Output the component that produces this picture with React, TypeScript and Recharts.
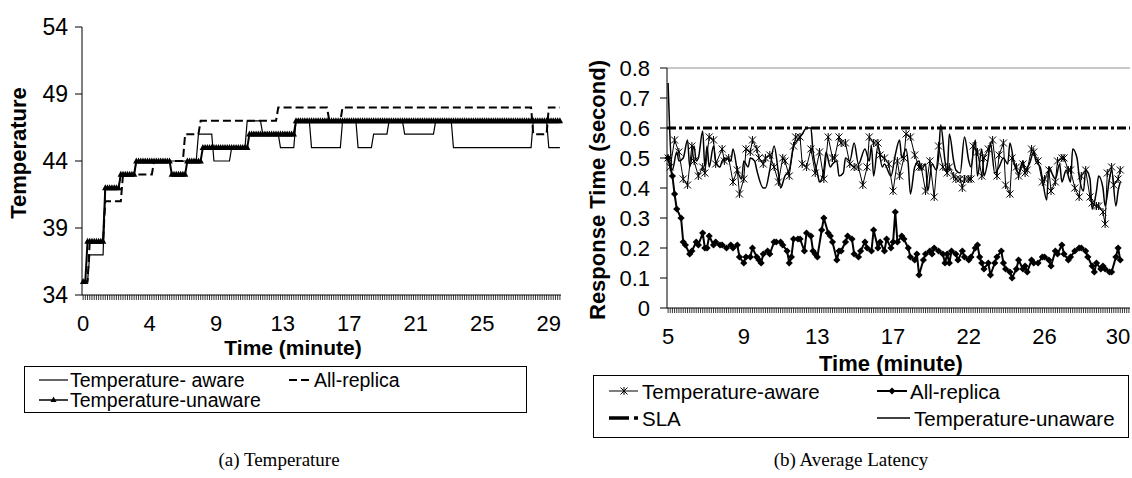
import React from 'react';
import { LineChart, Line, XAxis, YAxis, ReferenceLine } from 'recharts';

const FONT = '"Liberation Sans", Arial, Helvetica, sans-serif';
const SERIF = '"Liberation Serif", "Times New Roman", serif';

// ---- (a) Temperature: step series as [temperature, number of samples] ----
const tempAwareRuns = [
  [35, 3], [37, 7], [42, 7], [43, 7], [44, 28], [46, 7], [44, 8], [45, 7], [47, 7], [46, 8],
  [45, 7], [47, 7], [45, 14], [47, 7], [45, 7], [46, 7], [47, 7], [46, 14], [47, 8], [45, 36],
  [47, 7], [45, 6],
];
const allReplicaRuns = [
  [35, 3], [38, 7], [41, 8], [43, 14], [44, 14], [46, 7], [47, 35], [48, 23], [47, 6], [48, 86],
  [46, 7], [48, 6],
];
const tempUnawareRuns = [
  [35, 2], [38, 8], [42, 7], [43, 7], [44, 16], [43, 7], [44, 7], [45, 21], [46, 21], [47, 120],
];
const tempYTicks = [34, 39, 44, 49, 54];
const tempLabelIdx = [0, 30, 60, 90, 120, 150, 180, 210];
const tempLabelText = ['0', '4', '9', '13', '17', '21', '25', '29'];
const TEMP_SAMPLES = 216;

// ---- (b) Average Latency: [sample, seconds] ----
const latAwarePts = [
  [0, 0.5], [1, 0.47], [3, 0.56], [5, 0.52], [7, 0.43], [9, 0.41], [11, 0.54], [12, 0.49], [14, 0.44], [16, 0.47],
  [17, 0.45], [19, 0.57], [21, 0.56], [22, 0.48], [25, 0.53], [26, 0.49], [28, 0.5], [30, 0.42], [32, 0.46], [33, 0.38],
  [35, 0.43], [36, 0.53], [38, 0.52], [39, 0.56], [41, 0.53], [42, 0.5], [44, 0.48], [45, 0.5], [47, 0.51], [49, 0.47],
  [51, 0.42], [53, 0.5], [54, 0.49], [56, 0.44], [58, 0.54], [59, 0.57], [61, 0.57], [62, 0.48], [64, 0.47], [66, 0.53],
  [68, 0.45], [70, 0.52], [72, 0.43], [74, 0.57], [76, 0.5], [77, 0.5], [79, 0.57], [80, 0.55], [82, 0.55], [84, 0.48],
  [86, 0.47], [88, 0.47], [90, 0.41], [92, 0.47], [93, 0.57], [95, 0.55], [97, 0.55], [98, 0.51], [100, 0.5], [102, 0.48],
  [104, 0.39], [106, 0.49], [107, 0.44], [109, 0.5], [110, 0.58], [112, 0.57], [114, 0.51], [116, 0.47], [117, 0.47], [119, 0.39],
  [121, 0.49], [123, 0.37], [125, 0.54], [127, 0.47], [129, 0.45], [130, 0.47], [132, 0.44], [133, 0.43], [135, 0.43], [136, 0.4],
  [137, 0.43], [139, 0.43], [140, 0.43], [141, 0.54], [143, 0.52], [145, 0.44], [146, 0.5], [148, 0.53], [150, 0.56], [152, 0.44],
  [153, 0.51], [155, 0.55], [156, 0.41], [158, 0.38], [159, 0.5], [161, 0.47], [162, 0.44], [164, 0.48], [165, 0.45], [166, 0.46],
  [168, 0.53], [169, 0.52], [171, 0.49], [173, 0.42], [174, 0.43], [176, 0.46], [177, 0.39], [179, 0.42], [180, 0.49], [182, 0.5],
  [183, 0.5], [185, 0.46], [186, 0.46], [188, 0.4], [190, 0.37], [191, 0.44], [193, 0.46], [195, 0.37], [196, 0.35], [198, 0.34],
  [199, 0.34], [201, 0.32], [202, 0.28], [203, 0.45], [205, 0.47], [206, 0.41], [208, 0.43], [209, 0.46],
];
const latReplicaPts = [
  [0, 0.5], [2, 0.44], [3, 0.38], [4, 0.33], [6, 0.3], [7, 0.22], [8, 0.21], [10, 0.18], [11, 0.19], [13, 0.22],
  [14, 0.21], [16, 0.25], [17, 0.2], [18, 0.2], [19, 0.24], [21, 0.21], [22, 0.22], [24, 0.21], [25, 0.21], [27, 0.2],
  [29, 0.21], [30, 0.2], [32, 0.21], [33, 0.17], [35, 0.15], [36, 0.17], [38, 0.17], [39, 0.2], [41, 0.17], [42, 0.16],
  [43, 0.15], [44, 0.18], [46, 0.19], [47, 0.18], [49, 0.22], [50, 0.22], [52, 0.22], [53, 0.21], [55, 0.19], [56, 0.15],
  [57, 0.17], [58, 0.23], [60, 0.23], [61, 0.23], [63, 0.19], [64, 0.25], [66, 0.24], [67, 0.19], [68, 0.18], [69, 0.17],
  [71, 0.26], [72, 0.3], [74, 0.25], [75, 0.24], [76, 0.22], [78, 0.16], [79, 0.19], [80, 0.19], [82, 0.22], [83, 0.24],
  [85, 0.23], [86, 0.18], [88, 0.17], [89, 0.19], [91, 0.22], [92, 0.2], [94, 0.19], [95, 0.26], [97, 0.2], [98, 0.22],
  [100, 0.19], [101, 0.23], [103, 0.2], [104, 0.22], [105, 0.32], [106, 0.22], [108, 0.24], [109, 0.23], [111, 0.2], [112, 0.17],
  [114, 0.16], [115, 0.18], [116, 0.11], [118, 0.16], [119, 0.18], [121, 0.19], [122, 0.18], [123, 0.2], [125, 0.19], [127, 0.18],
  [128, 0.15], [129, 0.18], [130, 0.15], [131, 0.19], [133, 0.18], [134, 0.16], [136, 0.19], [137, 0.17], [139, 0.16], [140, 0.17],
  [142, 0.2], [143, 0.21], [144, 0.17], [145, 0.15], [146, 0.13], [148, 0.15], [149, 0.11], [151, 0.15], [152, 0.17], [154, 0.19],
  [155, 0.15], [156, 0.13], [158, 0.12], [159, 0.1], [161, 0.13], [162, 0.16], [164, 0.13], [165, 0.14], [166, 0.12], [168, 0.16],
  [169, 0.15], [171, 0.15], [173, 0.17], [174, 0.17], [176, 0.16], [177, 0.14], [179, 0.19], [180, 0.18], [182, 0.21], [183, 0.18],
  [185, 0.16], [186, 0.17], [188, 0.19], [190, 0.2], [191, 0.2], [193, 0.19], [194, 0.17], [196, 0.14], [197, 0.12], [198, 0.15],
  [200, 0.13], [201, 0.14], [202, 0.13], [204, 0.12], [205, 0.12], [207, 0.17], [208, 0.2], [209, 0.16],
];
const latUnawarePts = [
  [0, 0.75], [2, 0.46], [4, 0.52], [5, 0.49], [7, 0.5], [9, 0.56], [10, 0.47], [12, 0.54], [13, 0.49], [14, 0.5],
  [16, 0.59], [17, 0.47], [18, 0.54], [19, 0.47], [21, 0.54], [22, 0.49], [24, 0.47], [25, 0.49], [27, 0.5], [29, 0.49],
  [30, 0.53], [32, 0.46], [34, 0.43], [35, 0.49], [37, 0.47], [38, 0.5], [40, 0.49], [41, 0.46], [44, 0.4], [45, 0.4],
  [47, 0.46], [49, 0.54], [51, 0.45], [52, 0.4], [54, 0.44], [56, 0.46], [58, 0.54], [60, 0.56], [62, 0.58], [64, 0.6],
  [66, 0.6], [67, 0.52], [69, 0.45], [70, 0.42], [72, 0.46], [73, 0.52], [75, 0.47], [76, 0.48], [78, 0.49], [79, 0.44],
  [81, 0.45], [82, 0.5], [84, 0.49], [86, 0.55], [88, 0.48], [91, 0.53], [93, 0.49], [94, 0.54], [95, 0.44], [97, 0.54],
  [99, 0.47], [100, 0.48], [103, 0.44], [105, 0.51], [107, 0.56], [108, 0.5], [110, 0.53], [111, 0.48], [112, 0.38], [114, 0.47],
  [116, 0.49], [117, 0.46], [119, 0.48], [120, 0.39], [122, 0.48], [124, 0.46], [125, 0.5], [126, 0.61], [128, 0.49], [129, 0.45],
  [130, 0.58], [132, 0.49], [133, 0.46], [135, 0.45], [137, 0.57], [139, 0.49], [140, 0.47], [142, 0.56], [143, 0.44], [145, 0.53],
  [146, 0.44], [148, 0.5], [149, 0.55], [151, 0.45], [153, 0.47], [155, 0.5], [157, 0.48], [158, 0.55], [160, 0.48], [162, 0.45],
  [164, 0.49], [165, 0.46], [167, 0.48], [169, 0.52], [170, 0.49], [172, 0.47], [173, 0.43], [175, 0.36], [176, 0.47], [178, 0.44],
  [179, 0.43], [181, 0.48], [182, 0.42], [184, 0.46], [186, 0.42], [187, 0.53], [189, 0.5], [190, 0.44], [192, 0.39], [193, 0.46],
  [195, 0.43], [196, 0.33], [198, 0.39], [199, 0.44], [201, 0.4], [202, 0.34], [204, 0.43], [205, 0.46], [207, 0.34], [208, 0.39],
  [209, 0.42],
];
const slaLevel = 0.6;
const latYTicks = [0, 0.1, 0.2, 0.3, 0.4, 0.5, 0.6, 0.7, 0.8];
const latLabelIdx = [0, 35, 69, 104, 139, 174, 208];
const latLabelText = ['5', '9', '13', '17', '22', '26', '30'];
const LAT_SAMPLES = 214;

const expand = (runs: number[][]) => runs.flatMap(([v, n]) => Array(n).fill(v));
const toRows = (pts: number[][]) => pts.map(([i, v]) => ({ i, v }));

const awareSteps = expand(tempAwareRuns);
const replicaSteps = expand(allReplicaRuns);
const unawareSteps = expand(tempUnawareRuns);
const tempData = awareSteps.map((v, i) => ({ i, aware: v, replica: replicaSteps[i], unaware: unawareSteps[i] }));

const tempSampleTicks = Array.from({ length: TEMP_SAMPLES }, (_, i) => i);
const latSampleTicks = Array.from({ length: LAT_SAMPLES }, (_, i) => i);

// dense category-style ticks with a label only every few samples
const denseTick = (idx: number[], text: string[], labelDy: number, fontSize: number) => (p: any) => {
  const k = idx.indexOf(p.payload.value);
  return (
    <g key={`t${p.payload.value}`}>
      <line x1={p.x} y1={p.y} x2={p.x} y2={p.y + 5} stroke="#000" strokeWidth={0.8} />
      {k >= 0 && (
        <text x={p.x} y={p.y + labelDy} textAnchor="middle" dominantBaseline="central"
          fontFamily={FONT} fontSize={fontSize} fill="#000">{text[k]}</text>
      )}
    </g>
  );
};

const triangleDot = (p: any) =>
  p.cx == null ? <g key={p.index} /> : (
    <path key={p.index} d={`M${p.cx},${p.cy - 3.6} L${p.cx + 3.2},${p.cy + 2.4} L${p.cx - 3.2},${p.cy + 2.4} Z`} fill="#000" />
  );
const diamondDot = (p: any) => (
  <path key={p.index} d={`M${p.cx},${p.cy - 3.6} L${p.cx + 3.6},${p.cy} L${p.cx},${p.cy + 3.6} L${p.cx - 3.6},${p.cy} Z`} fill="#000" />
);
const starDot = (p: any) => (
  <path key={p.index}
    d={`M${p.cx - 3.5},${p.cy - 3.5} L${p.cx + 3.5},${p.cy + 3.5} M${p.cx + 3.5},${p.cy - 3.5} L${p.cx - 3.5},${p.cy + 3.5} M${p.cx},${p.cy - 4} L${p.cx},${p.cy + 4}`}
    stroke="#000" strokeWidth={1} fill="none" />
);

const txt = { fontFamily: FONT, fill: '#000' };

const Overlay = () => (
  <svg width={1132} height={478} style={{ position: 'absolute', left: 0, top: 0, pointerEvents: 'none' }}>
    {/* axis titles */}
    <text x={18} y={153} transform="rotate(-90 18 153)" textAnchor="middle" dominantBaseline="central" fontSize={22} fontWeight="bold" {...txt}>Temperature</text>
    <text x={293} y={347} textAnchor="middle" dominantBaseline="central" fontSize={21} fontWeight="bold" {...txt}>Time (minute)</text>
    <text x={597} y={190} transform="rotate(-90 597 190)" textAnchor="middle" dominantBaseline="central" fontSize={22} fontWeight="bold" {...txt}>Response Time (second)</text>
    <text x={891} y={363} textAnchor="middle" dominantBaseline="central" fontSize={22} fontWeight="bold" {...txt}>Time (minute)</text>

    {/* legend (a) */}
    <rect x={24.5} y={366.5} width={502} height={46} fill="#fff" stroke="#000" strokeWidth={1} />
    <line x1={39} y1={380} x2={68} y2={380} stroke="#000" strokeWidth={1.2} />
    <text x={70} y={380} dominantBaseline="central" fontSize={19.5} {...txt}>Temperature- aware</text>
    <line x1={289} y1={380} x2={312} y2={380} stroke="#000" strokeWidth={2} strokeDasharray="8 4" />
    <text x={314} y={380} dominantBaseline="central" fontSize={19.5} {...txt}>All-replica</text>
    <line x1={39} y1={400} x2={68} y2={400} stroke="#000" strokeWidth={1.5} />
    <path d="M53.5,396.5 L56.5,402 L50.5,402 Z" fill="#000" />
    <text x={70} y={400} dominantBaseline="central" fontSize={19.5} {...txt}>Temperature-unaware</text>

    {/* legend (b) */}
    <rect x={593.5} y={375.5} width={535} height={62} fill="#fff" stroke="#000" strokeWidth={1} />
    <line x1={609} y1={391} x2={638} y2={391} stroke="#000" strokeWidth={1} />
    <path d="M620.5,387.5 L627.5,394.5 M627.5,387.5 L620.5,394.5 M624,387 L624,395" stroke="#000" strokeWidth={1} />
    <text x={642} y={391} dominantBaseline="central" fontSize={20.5} {...txt}>Temperature-aware</text>
    <line x1={877} y1={391} x2={907} y2={391} stroke="#000" strokeWidth={2} />
    <path d="M892,387.5 L895.5,391 L892,394.5 L888.5,391 Z" fill="#000" />
    <text x={910} y={391} dominantBaseline="central" fontSize={20.5} {...txt}>All-replica</text>
    <line x1={609} y1={418} x2={629} y2={418} stroke="#000" strokeWidth={3.5} />
    <line x1={634} y1={418} x2={638} y2={418} stroke="#000" strokeWidth={3.5} />
    <text x={642} y={418} dominantBaseline="central" fontSize={20.5} {...txt}>SLA</text>
    <line x1={877} y1={418} x2={910} y2={418} stroke="#000" strokeWidth={1.3} />
    <text x={914} y={418} dominantBaseline="central" fontSize={20.5} {...txt}>Temperature-unaware</text>

    {/* captions */}
    <text x={279} y={459} textAnchor="middle" dominantBaseline="central" fontFamily={SERIF} fontSize={19} fill="#000">(a)  Temperature</text>
    <text x={851} y={459} textAnchor="middle" dominantBaseline="central" fontFamily={SERIF} fontSize={19} fill="#000">(b)  Average Latency</text>
  </svg>
);

export default function App() {
  return (
    <div style={{ position: 'absolute', left: 0, top: 0, width: 1132, height: 478, background: '#fff', overflow: 'hidden' }}>
      <div style={{ position: 'absolute', left: 0, top: 0 }}>
        <LineChart width={565} height={340} data={tempData} margin={{ top: 27, right: 4, bottom: 5, left: 0 }}>
          <XAxis type="number" dataKey="i" domain={[-0.5, TEMP_SAMPLES - 0.5]} ticks={tempSampleTicks} interval={0}
            tickSize={0} tickMargin={0} tickLine={false} axisLine={{ stroke: '#000' }} height={40}
            tick={denseTick(tempLabelIdx, tempLabelText, 28, 22)} />
          <YAxis type="number" domain={[34, 54]} ticks={tempYTicks} interval={0} width={82}
            tickSize={7} tickMargin={7} axisLine={{ stroke: '#000' }} tickLine={{ stroke: '#000' }}
            tick={{ fontSize: 23, fontFamily: FONT, fill: '#000' }} />
          <Line dataKey="aware" stroke="#000" strokeWidth={1.2} dot={false} isAnimationActive={false} />
          <Line dataKey="replica" stroke="#000" strokeWidth={2} strokeDasharray="8 4" dot={false} isAnimationActive={false} />
          <Line dataKey="unaware" stroke="#000" strokeWidth={2} dot={triangleDot} isAnimationActive={false} />
        </LineChart>
      </div>
      <div style={{ position: 'absolute', left: 540, top: 0 }}>
        <LineChart width={592} height={360} margin={{ top: 68, right: 2, bottom: 12, left: 0 }}>
          <XAxis type="number" dataKey="i" domain={[-0.5, LAT_SAMPLES - 0.5]} ticks={latSampleTicks} interval={0}
            tickSize={0} tickMargin={0} tickLine={false} axisLine={{ stroke: '#000' }} height={40}
            tick={denseTick(latLabelIdx, latLabelText, 28, 22)} allowDuplicatedCategory={false} />
          <YAxis type="number" domain={[0, 0.8]} ticks={latYTicks} interval={0} width={127}
            tickSize={7} tickMargin={10} axisLine={{ stroke: '#000' }} tickLine={{ stroke: '#000' }}
            tick={{ fontSize: 22, fontFamily: FONT, fill: '#000' }} />
          <ReferenceLine y={0.8} stroke="#b4b4b4" strokeWidth={1.5} />
          <Line data={toRows(latAwarePts)} dataKey="v" stroke="#000" strokeWidth={1} dot={starDot} isAnimationActive={false} />
          <Line data={toRows(latReplicaPts)} dataKey="v" stroke="#000" strokeWidth={2} dot={diamondDot} isAnimationActive={false} />
          <ReferenceLine y={slaLevel} stroke="#000" strokeWidth={3} strokeDasharray="9 3 3 3" />
          <Line data={toRows(latUnawarePts)} dataKey="v" type="monotone" stroke="#000" strokeWidth={1.5} dot={false} isAnimationActive={false} />
        </LineChart>
      </div>
      <Overlay />
    </div>
  );
}
